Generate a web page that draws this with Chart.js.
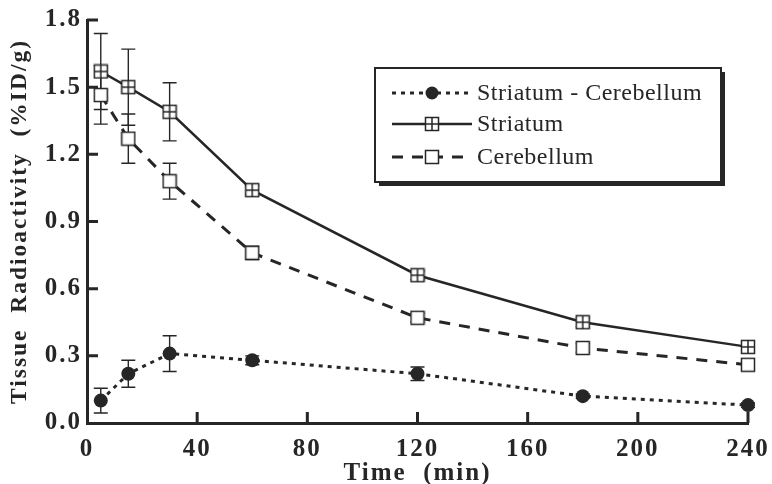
<!DOCTYPE html>
<html>
<head>
<meta charset="utf-8">
<script src="https://cdn.jsdelivr.net/npm/chart.js@4.4.1/dist/chart.umd.min.js"></script>
<style>
  body { margin: 0; background: #fff; }
  canvas { display: block; }
</style>
</head>
<body>
<canvas id="chart" width="772" height="484"></canvas>
<script>
// values
const times = [5, 15, 30, 60, 120, 180, 240];
const striatum = [1.57, 1.50, 1.39, 1.04, 0.66, 0.45, 0.34];
const striatumErr = [0.17, 0.17, 0.13, 0.02, 0.02, 0.02, 0.01];
const cerebellum = [1.465, 1.27, 1.08, 0.76, 0.47, 0.335, 0.26];
const cerebellumErr = [0.13, 0.11, 0.08, 0.03, 0.02, 0.02, 0.01];
const difference = [0.10, 0.22, 0.31, 0.28, 0.22, 0.12, 0.08];
const differenceErr = [0.055, 0.06, 0.08, 0.02, 0.03, 0.01, 0.01];
const seriesNames = ['Striatum - Cerebellum', 'Striatum', 'Cerebellum'];
const xTicks = [0, 40, 80, 120, 160, 200, 240];
const yTicks = [0.0, 0.3, 0.6, 0.9, 1.2, 1.5, 1.8];

const ink = '#262626';

function makeSquare(cross) {
  const c = document.createElement('canvas');
  c.width = 16; c.height = 16;
  const g = c.getContext('2d');
  g.fillStyle = '#fff';
  g.fillRect(1, 1, 14, 14);
  g.strokeStyle = ink;
  g.lineWidth = 1.5;
  g.strokeRect(1.5, 1.5, 13, 13);
  if (cross) {
    g.beginPath();
    g.moveTo(8, 1.5); g.lineTo(8, 14.5);
    g.moveTo(1.5, 8); g.lineTo(14.5, 8);
    g.stroke();
  }
  return c;
}
const crossSquare = makeSquare(true);
const openSquare = makeSquare(false);

function pts(values) {
  return times.map((t, i) => ({ x: t, y: values[i] }));
}

const errorSets = [differenceErr, striatumErr, cerebellumErr];

// spaced-out lettering like the typeset original
const spacing = {
  id: 'spacing',
  beforeDraw(chart) { chart.ctx.letterSpacing = '2px'; }
};

const errorBars = {
  id: 'errorBars',
  beforeDatasetsDraw(chart) {
    const ctx = chart.ctx;
    const xs = chart.scales.x, ys = chart.scales.y;
    ctx.save();
    ctx.strokeStyle = ink;
    ctx.lineWidth = 1.4;
    chart.data.datasets.forEach((ds, di) => {
      const errs = errorSets[di];
      ds.data.forEach((p, i) => {
        const x = xs.getPixelForValue(p.x);
        const top = ys.getPixelForValue(p.y + errs[i]);
        const bot = ys.getPixelForValue(p.y - errs[i]);
        ctx.beginPath();
        ctx.moveTo(x, top); ctx.lineTo(x, bot);
        ctx.moveTo(x - 7, top); ctx.lineTo(x + 7, top);
        ctx.moveTo(x - 7, bot); ctx.lineTo(x + 7, bot);
        ctx.stroke();
      });
    });
    ctx.restore();
  }
};

const innerTicks = {
  id: 'innerTicks',
  afterDraw(chart) {
    const ctx = chart.ctx;
    const xs = chart.scales.x, ys = chart.scales.y;
    const a = chart.chartArea;
    ctx.save();
    ctx.strokeStyle = ink;
    ctx.lineWidth = 3;
    ctx.beginPath();
    xTicks.slice(1).forEach(v => {
      const x = xs.getPixelForValue(v);
      ctx.moveTo(x, a.bottom); ctx.lineTo(x, a.bottom - 11);
    });
    yTicks.slice(1).forEach(v => {
      const y = ys.getPixelForValue(v);
      ctx.moveTo(a.left, y); ctx.lineTo(a.left + 11, y);
    });
    ctx.stroke();
    ctx.restore();
  }
};

const boxLegend = {
  id: 'boxLegend',
  afterDraw(chart) {
    const ctx = chart.ctx;
    const bx = 375, by = 68, bw = 346, bh = 114;
    ctx.save();
    ctx.fillStyle = ink;
    ctx.fillRect(bx + 4, by + 4, bw, bh);
    ctx.fillStyle = '#fff';
    ctx.fillRect(bx, by, bw, bh);
    ctx.strokeStyle = ink;
    ctx.lineWidth = 2;
    ctx.strokeRect(bx, by, bw, bh);
    const rows = [93, 124, 157];
    chart.data.datasets.forEach((ds, i) => {
      const y = rows[i];
      ctx.strokeStyle = ink;
      ctx.lineWidth = ds.borderWidth;
      ctx.setLineDash(ds.borderDash || []);
      ctx.beginPath();
      ctx.moveTo(392, y); ctx.lineTo(472, y);
      ctx.stroke();
      ctx.setLineDash([]);
      if (ds.pointStyle === 'circle') {
        ctx.fillStyle = ink;
        ctx.beginPath();
        ctx.arc(432, y, 6.5, 0, Math.PI * 2);
        ctx.fill();
      } else {
        ctx.drawImage(ds.pointStyle, 424, y - 8);
      }
      ctx.fillStyle = ink;
      ctx.letterSpacing = '0.5px';
      ctx.font = '24px "Liberation Serif", serif';
      ctx.textBaseline = 'middle';
      ctx.fillText(seriesNames[i], 477, y + 1);
    });
    ctx.restore();
  }
};

const tickFont = { family: '"Liberation Serif", serif', size: 25, weight: 'bold' };

new Chart(document.getElementById('chart'), {
  type: 'line',
  data: {
    datasets: [
      {
        label: seriesNames[0], data: pts(difference),
        borderColor: ink, backgroundColor: ink, borderWidth: 3, borderDash: [4, 5],
        pointStyle: 'circle', pointRadius: 7, pointBackgroundColor: ink, pointBorderWidth: 0
      },
      {
        label: seriesNames[1], data: pts(striatum),
        borderColor: ink, borderWidth: 2.5,
        pointStyle: crossSquare
      },
      {
        label: seriesNames[2], data: pts(cerebellum),
        borderColor: ink, borderWidth: 3, borderDash: [11, 9],
        pointStyle: openSquare
      }
    ]
  },
  options: {
    responsive: false,
    animation: false,
    clip: false,
    layout: { padding: { left: 0, top: 20, right: 24, bottom: 0 } },
    elements: { line: { tension: 0 } },
    plugins: { legend: { display: false }, tooltip: { enabled: false } },
    scales: {
      x: {
        type: 'linear', min: 0, max: 240,
        afterBuildTicks: s => { s.ticks = xTicks.map(v => ({ value: v })); },
        afterFit: s => { s.height = 61; s.paddingLeft = 0; s.paddingRight = 0; },
        grid: { display: false, drawTicks: false },
        border: { display: true, color: ink, width: 3 },
        ticks: { color: ink, font: tickFont, padding: 12, maxRotation: 0 },
        title: {
          display: true, text: 'Time  (min)', color: ink, padding: { top: 0, bottom: -5 },
          font: { family: '"Liberation Serif", serif', size: 25, weight: 'bold' }
        }
      },
      y: {
        min: 0, max: 1.8,
        afterBuildTicks: s => { s.ticks = yTicks.map(v => ({ value: v })); },
        afterFit: s => { s.width = 87; },
        grid: { display: false, drawTicks: false },
        border: { display: true, color: ink, width: 3 },
        ticks: { color: ink, font: tickFont, padding: 5, callback: v => v.toFixed(1) },
        title: {
          display: true, text: 'Tissue  Radioactivity  (%ID/g)', color: ink, padding: { top: 6, bottom: 0 },
          font: { family: '"Liberation Serif", serif', size: 23.5, weight: 'bold' }
        }
      }
    }
  },
  plugins: [spacing, errorBars, innerTicks, boxLegend]
});
</script>
</body>
</html>
